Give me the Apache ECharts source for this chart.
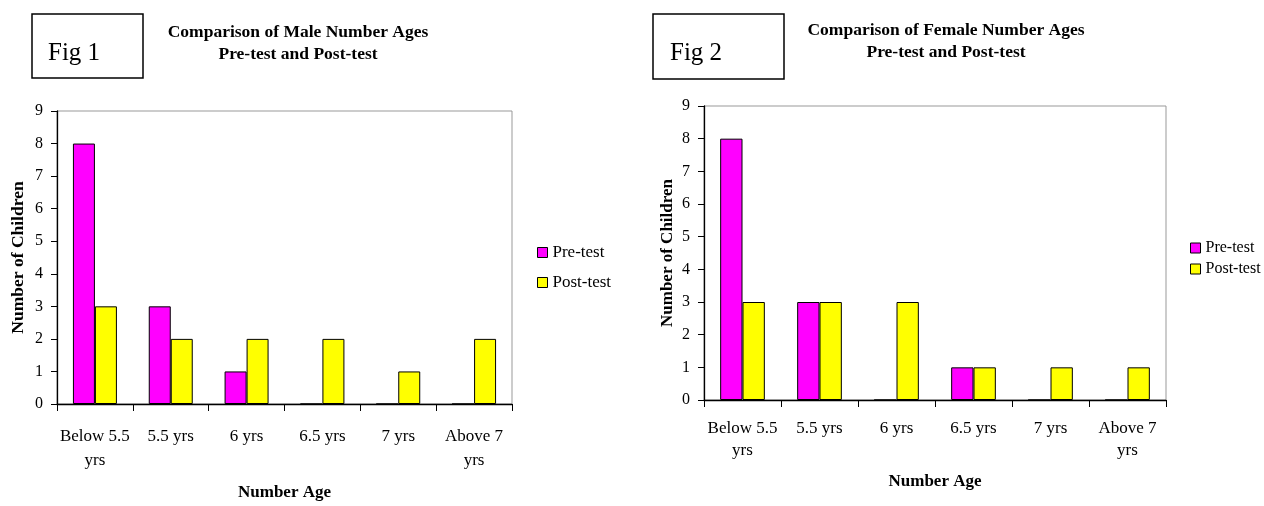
<!DOCTYPE html>
<html><head><meta charset="utf-8">
<script src="https://cdn.jsdelivr.net/npm/echarts@6/dist/echarts.min.js"></script>
<style>html,body{margin:0;padding:0;background:#fff}#c{width:1264px;height:506px}</style>
</head><body><div id="c"></div>
<script>
const categories = ['Below 5.5\nyrs', '5.5 yrs', '6 yrs', '6.5 yrs', '7 yrs', 'Above 7\nyrs'];
const seriesNames = ['Pre-test', 'Post-test'];
const malePre = [8, 3, 1, 0, 0, 0];
const malePost = [3, 2, 2, 2, 1, 2];
const femalePre = [8, 3, 0, 1, 0, 0];
const femalePost = [3, 3, 3, 1, 1, 1];
const yTicks = [0, 9, 1]; // min, max, interval
const titles = ['Comparison of Male Number Ages\nPre-test and Post-test', 'Comparison of Female Number Ages\nPre-test and Post-test'];
const figLabels = ['Fig 1', 'Fig 2'];
const xName = 'Number Age';
const yName = 'Number of Children';

const FONT = '"Liberation Serif", "Times New Roman", serif';
const colors = ['#FF00FF', '#FFFF00'];

function xAxis(gi, nameGap, margin, lh) {
  return {
    type: 'category', gridIndex: gi, data: categories,
    axisLine: { lineStyle: { color: '#000', width: 1.3 } },
    axisTick: { show: true, length: 7, lineStyle: { color: '#000' } },
    axisLabel: { color: '#000', fontFamily: FONT, fontSize: 17, lineHeight: lh, margin: margin, interval: 0 },
    name: xName, nameLocation: 'middle', nameGap: nameGap,
    nameTextStyle: { color: '#000', fontFamily: FONT, fontSize: 17, fontWeight: 'bold' }
  };
}
function yAxis(gi, nameGap, fs) {
  return {
    type: 'value', gridIndex: gi, min: yTicks[0], max: yTicks[1], interval: yTicks[2],
    splitLine: { show: false },
    axisLine: { show: true, lineStyle: { color: '#000', width: 1.3 } },
    axisTick: { show: true, length: 6, lineStyle: { color: '#000' } },
    axisLabel: { color: '#000', fontFamily: FONT, fontSize: 16, margin: 14 },
    name: yName, nameLocation: 'middle', nameGap: nameGap, nameRotate: 90,
    nameTextStyle: { color: '#000', fontFamily: FONT, fontSize: fs, fontWeight: 'bold' }
  };
}
function bar(name, data, gi, color, catGap) {
  return {
    type: 'bar', name: name, data: data, xAxisIndex: gi, yAxisIndex: gi,
    barGap: '0%', barCategoryGap: catGap,
    itemStyle: { color: color, borderColor: '#000', borderWidth: 1 },
    emphasis: { disabled: true }, animation: false
  };
}

const chart = echarts.init(document.getElementById('c'), null, { renderer: 'canvas' });
chart.setOption({
  animation: false,
  backgroundColor: '#fff',
  grid: [
    { left: 57, right: 752, top: 111, bottom: 95, show: true, borderColor: '#999', borderWidth: 1, backgroundColor: 'transparent' },
    { left: 704, right: 98, top: 106, bottom: 106, show: true, borderColor: '#999', borderWidth: 1, backgroundColor: 'transparent' }
  ],
  legend: [
    { orient: 'vertical', left: 532, top: 239, itemWidth: 10, itemHeight: 10, itemGap: 13, icon: 'rect',
      data: seriesNames, textStyle: { fontFamily: FONT, fontSize: 17, color: '#000' },
      itemStyle: { borderColor: '#000', borderWidth: 1 }, selectedMode: false },
    { orient: 'vertical', left: 1185, top: 235, itemWidth: 10, itemHeight: 10, itemGap: 5, icon: 'rect',
      data: seriesNames, textStyle: { fontFamily: FONT, fontSize: 16, color: '#000' },
      itemStyle: { borderColor: '#000', borderWidth: 1 }, selectedMode: false }
  ],
  xAxis: [xAxis(0, 80, 21, 24), xAxis(1, 73, 18, 22)],
  yAxis: [yAxis(0, 30, 17.5), yAxis(1, 28, 17)],
  series: [
    bar(seriesNames[0], malePre, 0, colors[0], '42%'),
    bar(seriesNames[1], malePost, 0, colors[1], '42%'),
    bar(seriesNames[0], femalePre, 1, colors[0], '42%'),
    bar(seriesNames[1], femalePost, 1, colors[1], '42%')
  ],
  graphic: [
    { type: 'rect', shape: { x: 32, y: 14, width: 111, height: 64 }, style: { fill: 'none', stroke: '#000', lineWidth: 1.5 } },
    { type: 'text', x: 48, y: 53, style: { text: figLabels[0], font: '25px ' + FONT, fill: '#000', textVerticalAlign: 'middle' } },
    { type: 'rect', shape: { x: 653, y: 14, width: 131, height: 65 }, style: { fill: 'none', stroke: '#000', lineWidth: 1.5 } },
    { type: 'text', x: 670, y: 53, style: { text: figLabels[1], font: '25px ' + FONT, fill: '#000', textVerticalAlign: 'middle' } },
    { type: 'text', x: 298, y: 43, style: { text: titles[0], font: 'bold 17.5px ' + FONT, fill: '#000', textAlign: 'center', textVerticalAlign: 'middle', lineHeight: 22 } },
    { type: 'text', x: 946, y: 41, style: { text: titles[1], font: 'bold 17.5px ' + FONT, fill: '#000', textAlign: 'center', textVerticalAlign: 'middle', lineHeight: 22 } }
  ]
});
</script>
</body></html>
